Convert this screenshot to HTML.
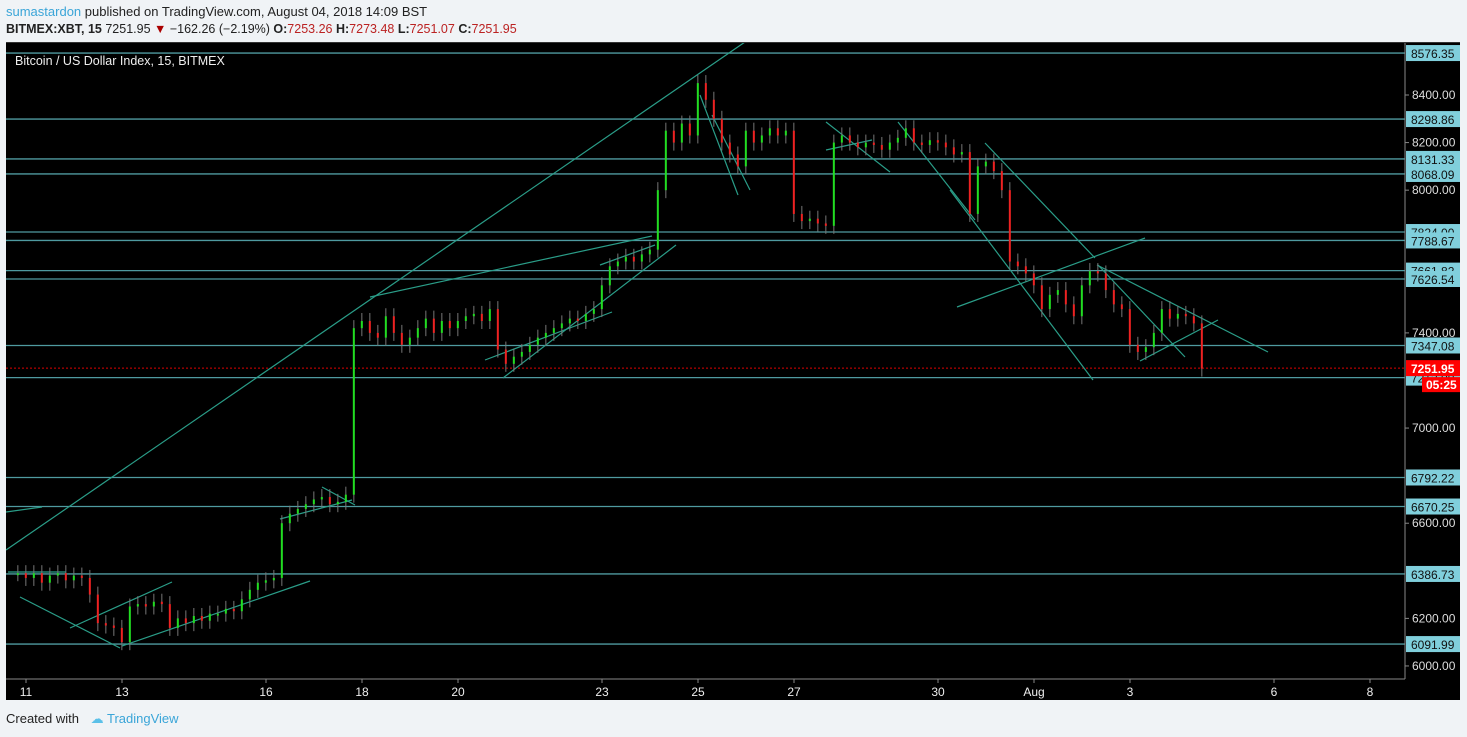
<!DOCTYPE html>
<html><head><meta charset="utf-8">
<style>
body{margin:0;width:1467px;height:737px;background:#f0f3f6;font-family:"Liberation Sans",sans-serif;overflow:hidden;position:relative}
.hdr{position:absolute;left:6px;font-size:13px;color:#222}
svg{position:absolute;left:0;top:0}
</style></head><body>
<div class="hdr" style="top:4px"><span style="color:#3aa5d8">sumastardon</span> published on TradingView.com, August 04, 2018 14:09 BST</div>
<div class="hdr" style="top:22px;font-size:12.5px"><b>BITMEX:XBT, 15</b> 7251.95 <span style="color:#a00">▼</span> −162.26 (−2.19%) <b>O:</b><span style="color:#b22">7253.26</span> <b>H:</b><span style="color:#b22">7273.48</span> <b>L:</b><span style="color:#b22">7251.07</span> <b>C:</b><span style="color:#b22">7251.95</span></div>
<div class="hdr" style="top:711px;font-size:13px">Created with <span style="color:#5bc0e8;margin-left:8px">☁</span> <span style="color:#3aa5d8">TradingView</span></div>
<svg id="chart" width="1467" height="737"></svg>
<script>
const closes=[6390,
6370,6390,6350,6380,6390,6360,
6380,6370,6300,6180,6170,6160,
6100,6250,6260,6250,6270,6260,
6160,6200,6180,6210,6190,6220,
6220,6240,6230,6280,6320,6350,
6360,6370,6600,6640,6660,6680,
6700,6710,6680,6690,6720,7420,
7450,7400,7380,7470,7400,7350,
7380,7420,7460,7400,7450,7420,
7450,7470,7480,7450,7500,7330,
7270,7300,7320,7350,7380,7400,
7420,7440,7460,7450,7480,7500,
7600,7680,7700,7720,7700,7730,
7750,8000,8250,8200,8280,8230,
8450,8380,8300,8200,8150,8100,
8250,8200,8230,8260,8230,8250,
7900,7870,7880,7860,7850,8200,
8230,8200,8180,8200,8190,8170,
8200,8220,8260,8200,8190,8210,
8200,8180,8150,8160,7900,8100,
8120,8080,8000,7700,7680,7650,
7600,7500,7560,7580,7520,7470,
7600,7660,7650,7580,7520,7500,
7350,7320,7340,7400,7500,7460,
7480,7470,7440,7250];
const levels=[8576.35,8298.86,8131.33,8068.09,7824.00,7788.67,7661.82,7626.54,7347.08,7212,6792.22,6670.25,6386.73,6091.99];
const levelLabels=["8576.35","8298.86","8131.33","8068.09","7824.00","7788.67","7661.82","7626.54","7347.08","7212.00","6792.22","6670.25","6386.73","6091.99"];
const priceTicks=[8400,8200,8000,7400,7000,6600,6200,6000];
const dateTicks=[11,13,16,18,20,23,25,27,30,32,34,37,39];
const dateLabels=["11","13","16","18","20","23","25","27","30","Aug","3","6","8"];
const lastPrice=7251.95;
const startDay=10.83, perDay=6;

const svg=document.getElementById('chart');
const NS='http://www.w3.org/2000/svg';
const y=p=>95+(8400-p)/100*23.79;
const x=d=>26+(d-11)*48;
function el(t,a,parent){const e=document.createElementNS(NS,t);for(const k in a)e.setAttribute(k,a[k]);(parent||svg).appendChild(e);return e;}

const bg=el('rect',{x:6,y:42,width:1454,height:658,fill:'#000'});


const clip=el('clipPath',{id:'pc'});el('rect',{x:6,y:42,width:1399,height:637},clip);
const plot=el('g',{'clip-path':'url(#pc)'});



levels.forEach((p,i)=>{
 const l=el('line',{x1:6,x2:1405,y1:y(p),y2:y(p),stroke:'#4f9aa0','stroke-width':1.3},plot);
 
 
});
const rl=el('line',{x1:6,x2:1405,y1:y(lastPrice),y2:y(lastPrice),stroke:'#d00','stroke-width':1,'stroke-dasharray':'2,2'},plot);



const trends=[[6,550,745,42],[6,512,42,507],[370,297,652,236],[485,360,612,312],[503,378,676,245],[700,95,738,195],[712,115,750,190],[826,122,890,172],[826,150,872,140],[898,122,975,220],[985,143,1095,258],[1097,265,1268,352],[950,190,1093,380],[957,307,1145,238],[1098,265,1185,357],[1140,361,1218,320],[20,597,120,648],[70,628,172,582],[122,646,310,581],[280,519,352,500],[322,487,355,505],[8,572,66,572],[600,265,655,245]];
trends.forEach(t=>{
 const l=el('line',{x1:t[0],y1:t[1],x2:t[2],y2:t[3],stroke:'#2a9d88','stroke-width':1.2},plot);
 
 
});

closes.forEach((c,i)=>{
 const o=i?closes[i-1]:c;
 const cx=x(startDay+i/perDay);
 const up=c>=o, col=up?'#22dd22':'#ee2222';
 const top=Math.min(y(o),y(c)),bot=Math.max(y(o),y(c));
 const g=el('g',{},plot);
 
 
 el('line',{x1:cx,x2:cx,y1:top-8,y2:bot+8,stroke:'#777','stroke-width':1},g);
 el('rect',{x:cx-1,y:top,width:2,height:Math.max(2,bot-top),fill:col},g);
});

el('line',{x1:1405,x2:1405,y1:42,y2:679,stroke:'#888'});
el('line',{x1:6,x2:1405,y1:679,y2:679,stroke:'#888'});

priceTicks.forEach(p=>{
 el('line',{x1:1405,x2:1409,y1:y(p),y2:y(p),stroke:'#888'});
 const t=el('text',{x:1412,y:y(p)+4,fill:'#ddd','font-size':12});
 t.textContent=p.toFixed(2);
 
 
});
levels.forEach((p,i)=>{
 const r=el('rect',{x:1406,y:y(p)-8,width:54,height:16,fill:'#80cfdc'});
 
 
 const t=el('text',{x:1411,y:y(p)+5,fill:'#111','font-size':12});
 t.textContent=levelLabels[i];
 
 
});
const pr=el('rect',{x:1406,y:y(lastPrice)-8,width:54,height:16,fill:'#f00'});


const pt=el('text',{x:1411,y:y(lastPrice)+5,fill:'#fff','font-size':12,'font-weight':'bold'});
pt.textContent=lastPrice.toFixed(2);


const cr=el('rect',{x:1422,y:y(lastPrice)+9,width:38,height:15,fill:'#f00'});


const ct=el('text',{x:1426,y:y(lastPrice)+21,fill:'#fff','font-size':12,'font-weight':'bold'});
ct.textContent='05:25';



dateTicks.forEach((d,i)=>{
 el('line',{x1:x(d),x2:x(d),y1:679,y2:683,stroke:'#888'});
 const t=el('text',{x:x(d),y:696,fill:'#eee','font-size':12,'text-anchor':'middle'});
 t.textContent=dateLabels[i];
 
 
});
el('line',{x1:6,x2:1460,y1:42.5,y2:42.5,stroke:'#333'});
const title=el('text',{x:15,y:65,fill:'#eee','font-size':12.5});
title.textContent='Bitcoin / US Dollar Index, 15, BITMEX';


</script>
</body></html>
